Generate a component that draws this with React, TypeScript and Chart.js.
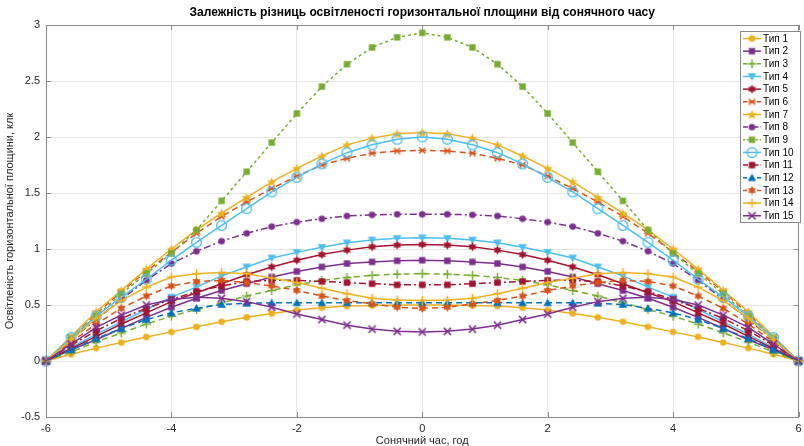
import React, { useEffect, useRef } from 'react';
import { Chart, registerables } from 'chart.js';

Chart.register(...registerables);

// ---------- data ----------
const xHours = [-6, -5.6, -5.2, -4.8, -4.4, -4, -3.6, -3.2, -2.8, -2.4, -2, -1.6, -1.2, -0.8, -0.4, 0, 0.4, 0.8, 1.2, 1.6, 2, 2.4, 2.8, 3.2, 3.6, 4, 4.4, 4.8, 5.2, 5.6, 6];

const seriesNames = ['Тип 1', 'Тип 2', 'Тип 3', 'Тип 4', 'Тип 5', 'Тип 6', 'Тип 7', 'Тип 8', 'Тип 9', 'Тип 10', 'Тип 11', 'Тип 12', 'Тип 13', 'Тип 14', 'Тип 15'];

const tip1 = [0, 0.06, 0.115, 0.165, 0.215, 0.26, 0.305, 0.35, 0.39, 0.425, 0.455, 0.475, 0.49, 0.495, 0.5, 0.5, 0.5, 0.495, 0.49, 0.475, 0.455, 0.425, 0.39, 0.35, 0.305, 0.26, 0.215, 0.165, 0.115, 0.06, 0];
const tip2 = [0, 0.1, 0.19, 0.29, 0.39, 0.48, 0.56, 0.63, 0.69, 0.75, 0.8, 0.84, 0.87, 0.885, 0.895, 0.9, 0.895, 0.885, 0.87, 0.84, 0.8, 0.75, 0.69, 0.63, 0.56, 0.48, 0.39, 0.29, 0.19, 0.1, 0];
const tip3 = [0, 0.08, 0.17, 0.25, 0.33, 0.4, 0.46, 0.52, 0.58, 0.63, 0.68, 0.72, 0.745, 0.765, 0.775, 0.78, 0.775, 0.765, 0.745, 0.72, 0.68, 0.63, 0.58, 0.52, 0.46, 0.4, 0.33, 0.25, 0.17, 0.08, 0];
const tip4 = [0, 0.12, 0.24, 0.35, 0.46, 0.57, 0.66, 0.76, 0.84, 0.92, 0.97, 1.015, 1.055, 1.08, 1.095, 1.1, 1.095, 1.08, 1.055, 1.015, 0.97, 0.92, 0.84, 0.76, 0.66, 0.57, 0.46, 0.35, 0.24, 0.12, 0];
const tip5 = [0, 0.11, 0.22, 0.33, 0.43, 0.53, 0.61, 0.69, 0.77, 0.84, 0.9, 0.95, 0.99, 1.02, 1.035, 1.04, 1.035, 1.02, 0.99, 0.95, 0.9, 0.84, 0.77, 0.69, 0.61, 0.53, 0.43, 0.33, 0.22, 0.11, 0];
const tip6 = [0, 0.21, 0.42, 0.62, 0.8, 0.97, 1.14, 1.29, 1.42, 1.54, 1.65, 1.75, 1.81, 1.855, 1.875, 1.88, 1.875, 1.855, 1.81, 1.75, 1.65, 1.54, 1.42, 1.29, 1.14, 0.97, 0.8, 0.62, 0.42, 0.21, 0];
const tip7 = [0, 0.22, 0.44, 0.63, 0.82, 1.0, 1.17, 1.32, 1.46, 1.6, 1.72, 1.83, 1.93, 1.99, 2.03, 2.04, 2.03, 1.99, 1.93, 1.83, 1.72, 1.6, 1.46, 1.32, 1.17, 1.0, 0.82, 0.63, 0.44, 0.22, 0];
const tip8 = [0, 0.19, 0.37, 0.55, 0.72, 0.87, 0.98, 1.07, 1.14, 1.2, 1.24, 1.27, 1.295, 1.305, 1.31, 1.31, 1.31, 1.305, 1.295, 1.27, 1.24, 1.2, 1.14, 1.07, 0.98, 0.87, 0.72, 0.55, 0.37, 0.19, 0];
const tip9 = [0, 0.2, 0.4, 0.6, 0.78, 0.96, 1.17, 1.43, 1.69, 1.95, 2.21, 2.45, 2.65, 2.8, 2.89, 2.93, 2.89, 2.8, 2.65, 2.45, 2.21, 1.95, 1.69, 1.43, 1.17, 0.96, 0.78, 0.6, 0.4, 0.2, 0];
const tip10 = [0, 0.21, 0.4, 0.57, 0.73, 0.9, 1.06, 1.21, 1.36, 1.51, 1.64, 1.76, 1.86, 1.93, 1.98, 2.0, 1.98, 1.93, 1.86, 1.76, 1.64, 1.51, 1.36, 1.21, 1.06, 0.9, 0.73, 0.57, 0.4, 0.21, 0];
const tip11 = [0, 0.14, 0.27, 0.38, 0.47, 0.55, 0.62, 0.67, 0.71, 0.72, 0.72, 0.71, 0.7, 0.69, 0.68, 0.68, 0.68, 0.69, 0.7, 0.71, 0.72, 0.72, 0.71, 0.67, 0.62, 0.55, 0.47, 0.38, 0.27, 0.14, 0];
const tip12 = [0, 0.1, 0.2, 0.29, 0.37, 0.43, 0.47, 0.505, 0.515, 0.52, 0.52, 0.52, 0.52, 0.52, 0.52, 0.52, 0.52, 0.52, 0.52, 0.52, 0.52, 0.52, 0.515, 0.505, 0.47, 0.43, 0.37, 0.29, 0.2, 0.1, 0];
const tip13 = [0, 0.17, 0.33, 0.47, 0.58, 0.67, 0.71, 0.72, 0.7, 0.67, 0.63, 0.58, 0.54, 0.51, 0.48, 0.47, 0.48, 0.51, 0.54, 0.58, 0.63, 0.67, 0.7, 0.72, 0.71, 0.67, 0.58, 0.47, 0.33, 0.17, 0];
const tip14 = [0, 0.19, 0.38, 0.54, 0.66, 0.75, 0.78, 0.79, 0.78, 0.74, 0.7, 0.65, 0.6, 0.56, 0.545, 0.54, 0.545, 0.56, 0.6, 0.65, 0.7, 0.74, 0.78, 0.79, 0.78, 0.75, 0.66, 0.54, 0.38, 0.19, 0];
const tip15 = [0, 0.15, 0.3, 0.41, 0.5, 0.55, 0.57, 0.56, 0.53, 0.48, 0.42, 0.37, 0.32, 0.285, 0.265, 0.26, 0.265, 0.285, 0.32, 0.37, 0.42, 0.48, 0.53, 0.56, 0.57, 0.55, 0.5, 0.41, 0.3, 0.15, 0];

const allSeries = [tip1, tip2, tip3, tip4, tip5, tip6, tip7, tip8, tip9, tip10, tip11, tip12, tip13, tip14, tip15];

const xTickValues = [-6, -4, -2, 0, 2, 4, 6];
const yTickValues = [-0.5, 0, 0.5, 1, 1.5, 2, 2.5, 3];

const titleText = 'Залежність різниць освітленості горизонтальної площини від сонячного часу';
const xTitle = 'Сонячний час, год';
const yTitle = 'Освітленість горизонтальної площини, клк';

// ---------- styles ----------
const C_BLUE = '#0072BD';
const C_ORANGE = '#D95319';
const C_YELLOW = '#EDB120';
const C_PURPLE = '#7E2F8E';
const C_GREEN = '#77AC30';
const C_CYAN = '#4DBEEE';
const C_RED = '#A2142F';

const DASH = [6, 4];
const DOT = [3, 3];
const DASHDOT = [7, 3, 2, 3];

const seriesStyles: { color: string; dash: number[]; marker: string }[] = [
  { color: C_YELLOW, dash: [], marker: 'circle' },
  { color: C_PURPLE, dash: [], marker: 'square' },
  { color: C_GREEN, dash: DASH, marker: 'plus' },
  { color: C_CYAN, dash: [], marker: 'triDown' },
  { color: C_RED, dash: [], marker: 'hexagram' },
  { color: C_ORANGE, dash: DASH, marker: 'asterisk' },
  { color: C_YELLOW, dash: [], marker: 'pentagram' },
  { color: C_PURPLE, dash: DASHDOT, marker: 'circle' },
  { color: C_GREEN, dash: DOT, marker: 'square' },
  { color: C_CYAN, dash: [], marker: 'ring' },
  { color: C_RED, dash: DASHDOT, marker: 'square' },
  { color: C_BLUE, dash: DASH, marker: 'triUp' },
  { color: C_ORANGE, dash: DASH, marker: 'hexagram' },
  { color: C_YELLOW, dash: [], marker: 'plus' },
  { color: C_PURPLE, dash: [], marker: 'x' },
];

const FONT = '"Liberation Sans", Arial, sans-serif';

function starPath(g: CanvasRenderingContext2D, cx: number, cy: number, n: number, ro: number, ri: number) {
  g.beginPath();
  for (let i = 0; i < n * 2; i++) {
    const r = i % 2 === 0 ? ro : ri;
    const a = -Math.PI / 2 + (i * Math.PI) / n;
    const px = cx + r * Math.cos(a);
    const py = cy + r * Math.sin(a);
    if (i === 0) g.moveTo(px, py);
    else g.lineTo(px, py);
  }
  g.closePath();
}

function makeMarker(kind: string, color: string): HTMLCanvasElement {
  const s = 15;
  const c = document.createElement('canvas');
  c.width = s;
  c.height = s;
  const g = c.getContext('2d') as CanvasRenderingContext2D;
  const m = s / 2;
  g.fillStyle = color;
  g.strokeStyle = color;
  g.lineWidth = 1.5;
  g.lineCap = 'butt';
  switch (kind) {
    case 'circle':
      g.beginPath();
      g.arc(m, m, 3.3, 0, Math.PI * 2);
      g.fill();
      break;
    case 'ring':
      g.lineWidth = 1.3;
      g.beginPath();
      g.arc(m, m, 4.9, 0, Math.PI * 2);
      g.stroke();
      break;
    case 'square':
      g.fillRect(m - 3.2, m - 3.2, 6.4, 6.4);
      break;
    case 'plus':
      g.beginPath();
      g.moveTo(m - 4.5, m);
      g.lineTo(m + 4.5, m);
      g.moveTo(m, m - 4.5);
      g.lineTo(m, m + 4.5);
      g.stroke();
      break;
    case 'x':
      g.beginPath();
      g.moveTo(m - 3.6, m - 3.6);
      g.lineTo(m + 3.6, m + 3.6);
      g.moveTo(m + 3.6, m - 3.6);
      g.lineTo(m - 3.6, m + 3.6);
      g.stroke();
      break;
    case 'asterisk':
      g.lineWidth = 1.4;
      g.beginPath();
      g.moveTo(m - 3, m - 3);
      g.lineTo(m + 3, m + 3);
      g.moveTo(m + 3, m - 3);
      g.lineTo(m - 3, m + 3);
      g.moveTo(m - 3.8, m);
      g.lineTo(m + 3.8, m);
      g.stroke();
      break;
    case 'triUp':
      g.beginPath();
      g.moveTo(m, m - 4.3);
      g.lineTo(m + 4.3, m + 3.2);
      g.lineTo(m - 4.3, m + 3.2);
      g.closePath();
      g.fill();
      break;
    case 'triDown':
      g.beginPath();
      g.moveTo(m, m + 4.3);
      g.lineTo(m + 4.3, m - 3.2);
      g.lineTo(m - 4.3, m - 3.2);
      g.closePath();
      g.fill();
      break;
    case 'hexagram':
      starPath(g, m, m, 6, 4.6, 2.6);
      g.fill();
      break;
    case 'pentagram':
      starPath(g, m, m + 0.5, 5, 5.2, 2.3);
      g.fill();
      break;
  }
  return c;
}

export default function App() {
  const canvasRef = useRef<HTMLCanvasElement | null>(null);

  useEffect(() => {
    document.body.style.margin = '0';
    const canvas = canvasRef.current;
    if (!canvas) return;

    const markers = seriesStyles.map((s) => makeMarker(s.marker, s.color));

    const datasets = allSeries.map((vals, i) => ({
      label: seriesNames[i],
      data: xHours.map((x, k) => ({ x, y: vals[k] })),
      borderColor: seriesStyles[i].color,
      backgroundColor: seriesStyles[i].color,
      borderWidth: 1.5,
      borderDash: seriesStyles[i].dash,
      pointStyle: markers[i],
      pointRadius: 4,
      pointHoverRadius: 4,
      tension: 0,
      clip: false as any,
      order: allSeries.length - i,
    }));

    const framePlugin = {
      id: 'matlabFrame',
      afterDraw(chart: any) {
        const { ctx, chartArea: a, scales } = chart;
        const xs = scales.x;
        const ys = scales.y;
        ctx.save();
        // box
        ctx.strokeStyle = '#8a8a8a';
        ctx.lineWidth = 1;
        ctx.setLineDash([]);
        ctx.strokeRect(Math.round(a.left) + 0.5, Math.round(a.top) + 0.5, Math.round(a.right - a.left) - 1, Math.round(a.bottom - a.top));
        // inward tick marks
        const tl = 5;
        ctx.beginPath();
        xTickValues.forEach((v) => {
          const px = Math.round(xs.getPixelForValue(v)) + 0.5;
          ctx.moveTo(px, a.bottom);
          ctx.lineTo(px, a.bottom - tl);
          ctx.moveTo(px, a.top);
          ctx.lineTo(px, a.top + tl);
        });
        yTickValues.forEach((v) => {
          const py = Math.round(ys.getPixelForValue(v)) + 0.5;
          ctx.moveTo(a.left, py);
          ctx.lineTo(a.left + tl, py);
          ctx.moveTo(a.right, py);
          ctx.lineTo(a.right - tl, py);
        });
        ctx.stroke();

        // title
        ctx.fillStyle = '#000000';
        ctx.font = `bold 12px ${FONT}`;
        ctx.textAlign = 'center';
        ctx.textBaseline = 'middle';
        ctx.fillText(titleText, (a.left + a.right) / 2, 13);

        // legend
        const lx = 740;
        const ly = 31;
        const lw = 60;
        const rowH = 12.66;
        const lh = 191;
        ctx.fillStyle = '#ffffff';
        ctx.fillRect(lx, ly, lw, lh);
        ctx.strokeStyle = '#8a8a8a';
        ctx.lineWidth = 1;
        ctx.strokeRect(lx + 0.5, ly + 0.5, lw, lh);
        ctx.font = `10px ${FONT}`;
        ctx.textAlign = 'left';
        ctx.textBaseline = 'middle';
        seriesNames.forEach((name, i) => {
          const cy = ly + 7.5 + rowH * i;
          const st = seriesStyles[i];
          ctx.strokeStyle = st.color;
          ctx.lineWidth = 1.5;
          ctx.setLineDash(st.dash.length ? st.dash.map((d) => d * 0.7) : []);
          ctx.beginPath();
          ctx.moveTo(lx + 3, cy);
          ctx.lineTo(lx + 21, cy);
          ctx.stroke();
          ctx.setLineDash([]);
          const mk = markers[i];
          ctx.drawImage(mk, lx + 12 - mk.width / 2, cy - mk.height / 2);
          ctx.fillStyle = '#000000';
          ctx.fillText(name, lx + 23, cy + 0.5);
        });
        ctx.restore();
      },
    };

    const chart = new Chart(canvas, {
      type: 'line',
      data: { datasets: datasets as any },
      options: {
        animation: false,
        responsive: false,
        maintainAspectRatio: false,
        events: [],
        layout: { padding: { top: 25, right: 2, left: 0, bottom: 0 } },
        plugins: {
          legend: { display: false },
          title: { display: false },
          tooltip: { enabled: false },
        },
        scales: {
          x: {
            type: 'linear',
            min: -6,
            max: 6,
            afterBuildTicks: (scale: any) => {
              scale.ticks = xTickValues.map((v) => ({ value: v }));
            },
            afterFit: (scale: any) => {
              scale.height = 29;
              scale.paddingLeft = 0;
              scale.paddingRight = 0;
            },
            ticks: {
              color: '#262626',
              font: { family: FONT, size: 11 },
              padding: 5,
              maxRotation: 0,
              autoSkip: false,
            },
            grid: { color: '#e6e6e6', lineWidth: 1, drawTicks: false },
            border: { display: false },
            title: {
              display: true,
              text: xTitle,
              color: '#262626',
              font: { family: FONT, size: 11 },
              padding: { top: 0, bottom: -2 },
            },
          },
          y: {
            type: 'linear',
            min: -0.5,
            max: 3,
            afterBuildTicks: (scale: any) => {
              scale.ticks = yTickValues.map((v) => ({ value: v }));
            },
            afterFit: (scale: any) => {
              scale.width = 46;
              scale.paddingTop = 0;
              scale.paddingBottom = 0;
            },
            ticks: {
              color: '#262626',
              font: { family: FONT, size: 11 },
              padding: 6,
              autoSkip: false,
              callback: (v: any) => String(v),
            },
            grid: { color: '#e6e6e6', lineWidth: 1, drawTicks: false },
            border: { display: false },
            title: {
              display: true,
              text: yTitle,
              color: '#262626',
              font: { family: FONT, size: 11 },
              padding: { top: 3, bottom: 0 },
            },
          },
        },
      },
      plugins: [framePlugin],
    });

    return () => {
      chart.destroy();
    };
  }, []);

  return (
    <div style={{ width: 804, height: 446, position: 'relative', background: '#ffffff' }}>
      <canvas ref={canvasRef} width={804} height={446} style={{ display: 'block' }} />
    </div>
  );
}
